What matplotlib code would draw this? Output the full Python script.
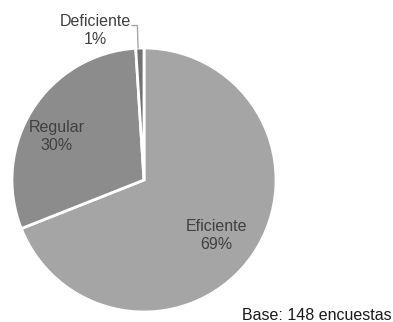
import matplotlib.pyplot as plt

categories = ["Eficiente", "Regular", "Deficiente"]
values = [69, 30, 1]
colors = ["#a5a5a5", "#8c8c8c", "#737373"]

plt.rcParams['font.family'] = ['Liberation Sans', 'DejaVu Sans']

fig = plt.figure(figsize=(3.93, 3.22), dpi=100)
ax = fig.add_axes([12 / 393, 10 / 322, 264 / 393, 264 / 322])

wedges, _ = ax.pie(values, colors=colors, startangle=90, counterclock=False,
                   radius=1, wedgeprops=dict(edgecolor="white", linewidth=2))
ax.set_xlim(-1, 1)
ax.set_ylim(-1, 1)
ax.set_aspect("equal")
ax.axis("off")

# label positions (radius units)
label_pos = {"Eficiente": (0.55, -0.42), "Regular": (-0.66, 0.33), "Deficiente": (-0.37, 1.13)}
for cat, v in zip(categories, values):
    x, y = label_pos[cat]
    ax.text(x, y, f"{cat}\n{v}%", ha="center", va="center", fontsize=11.5,
            color="#404040", linespacing=1.25, clip_on=False)

# leader line for the small slice
ax.plot([-0.09, -0.05, -0.045], [1.17, 1.17, 1.0], color="#a6a6a6", lw=1, clip_on=False)

fig.text(317 / 393, 1 - 315 / 322, "Base: 148 encuestas", ha="center", va="center",
         fontsize=11.5, color="#1a1a1a")

fig.savefig("out.png", dpi=100)
